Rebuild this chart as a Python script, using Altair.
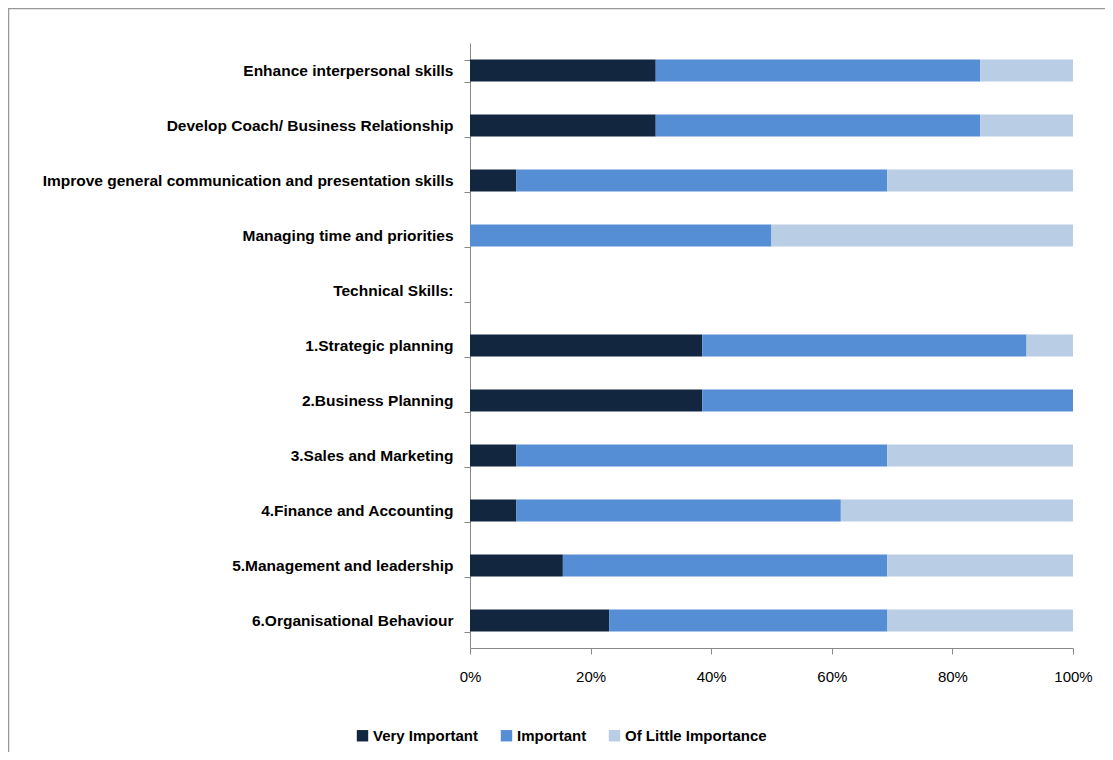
import altair as alt
import pandas as pd

categories = [
    "Enhance interpersonal skills\u00a0",
    "Develop Coach/ Business Relationship\u00a0",
    "Improve general communication and presentation skills",
    "Managing time and priorities",
    "Technical  Skills:",
    "1.Strategic planning",
    "2.Business Planning",
    "3.Sales and Marketing",
    "4.Finance and Accounting",
    "5.Management and leadership",
    "6.Organisational Behaviour",
]
series = ["Very Important", "Important", "Of Little Importance"]
very_important = [30.8, 30.8, 7.7, 0.0, 0.0, 38.5, 38.5, 7.7, 7.7, 15.4, 23.1]
important = [53.8, 53.8, 61.5, 50.0, 0.0, 53.8, 61.5, 61.5, 53.8, 53.8, 46.2]
little = [15.4, 15.4, 30.8, 50.0, 0.0, 7.7, 0.0, 30.8, 38.5, 30.8, 30.8]
colors = ["#13263F", "#558ED5", "#B9CDE5"]

rows = []
for i, c in enumerate(categories):
    for j, (s, vals) in enumerate(zip(series, [very_important, important, little])):
        rows.append({"category": c, "series": s, "order": j, "value": vals[i]})
df = pd.DataFrame(rows)

FONT = "Liberation Sans"

bars = alt.Chart(df).mark_bar().encode(
    y=alt.Y("category:N", sort=categories, title=None,
            scale=alt.Scale(paddingInner=0.6, paddingOuter=0.3),
            axis=alt.Axis(tickBand="extent", labelFont=FONT, labelFontWeight="bold",
                          labelFontSize=15.5, labelColor="#000000", labelPadding=11,
                          domainColor="#888888", tickColor="#888888", tickSize=6,
                          labelLimit=500)),
    x=alt.X("value:Q", stack="normalize", title=None,
            scale=alt.Scale(domain=[0, 1]),
            axis=alt.Axis(format="%", values=[0, 0.2, 0.4, 0.6, 0.8, 1.0], grid=False,
                          labelFont=FONT, labelFontSize=15, labelColor="#000000",
                          labelFlush=False, labelPadding=15, domainColor="#888888",
                          tickColor="#888888", tickSize=6)),
    color=alt.Color("series:N", sort=series,
                    scale=alt.Scale(domain=series, range=colors),
                    legend=alt.Legend(title=None, orient="none", direction="horizontal",
                                      legendX=-115, legendY=685, symbolType="square",
                                      symbolSize=130, symbolStrokeWidth=0,
                                      labelFont=FONT, labelFontWeight="bold",
                                      labelFontSize=15, labelColor="#000000",
                                      columnPadding=20, labelOffset=3)),
    order=alt.Order("order:Q"),
)

frame = alt.Chart(pd.DataFrame({"a": [0]})).mark_rect(
    fill=None, stroke="#999999", strokeWidth=1.5
).encode(
    x=alt.value(-461.5), x2=alt.value(900), y=alt.value(-34.5), y2=alt.value(900)
)

chart = alt.layer(frame, bars).properties(
    width=603, height=605,
    autosize=alt.AutoSizeParams(type="none"),
    padding={"left": 462, "top": 35, "right": 32, "bottom": 104},
).configure_view(stroke=None)

chart.save("out.html", embed_options={"renderer": "svg", "actions": False})
